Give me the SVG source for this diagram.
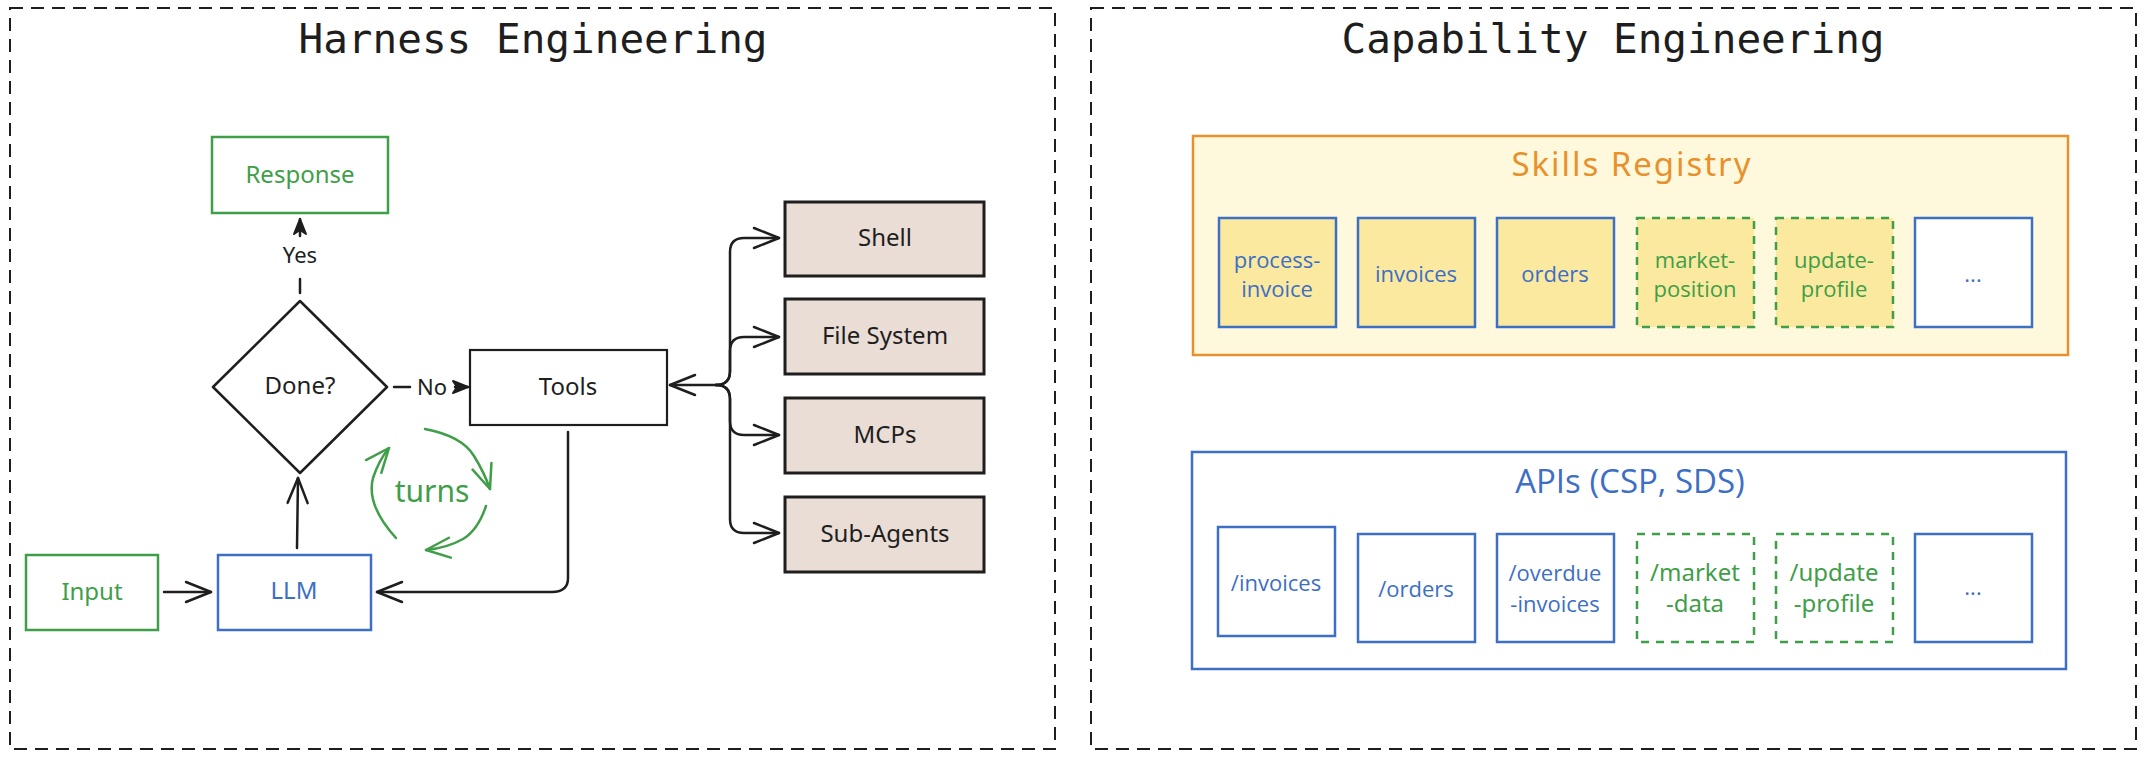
<svg xmlns="http://www.w3.org/2000/svg" width="2149" height="762" viewBox="0 0 2149 762">
<defs>
<style>
.frame{fill:none;stroke:#1e1e1e;stroke-width:2;stroke-dasharray:13 8}
.title{font-family:"DejaVu Sans Mono","Liberation Mono",monospace;font-size:41px;fill:#1e1e1e;text-anchor:middle}
.hand{font-family:"Noto Sans","Liberation Sans",sans-serif;font-size:24px;text-anchor:middle}
.sans{font-family:"Open Sans","Liberation Sans",sans-serif;font-size:22px;text-anchor:middle}
.k{fill:#1e1e1e}.g{fill:#3f9e48}.b{fill:#3d6fc4}.o{fill:#e8912c}
.gbox{fill:#ffffff;stroke:#3f9e48;stroke-width:2.5}
.bbox{fill:#ffffff;stroke:#3d6fc4;stroke-width:2.5}
.kbox{fill:#ffffff;stroke:#1e1e1e;stroke-width:2.2}
.tool{fill:#e9ddd5;stroke:#1e1e1e;stroke-width:3}
.item{fill:#fbe9a0;stroke:#3d6fc4;stroke-width:2.5}
.gitem{fill:#fbe9a0;stroke:#3f9e48;stroke-width:2.5;stroke-dasharray:8 7}
.gapi{fill:#ffffff;stroke:#3f9e48;stroke-width:2.5;stroke-dasharray:8 7}
.conn{fill:none;stroke:#1e1e1e;stroke-width:2.5;stroke-linecap:round;stroke-linejoin:round}
.turn{fill:none;stroke:#3f9e48;stroke-width:2.5;stroke-linecap:round;stroke-linejoin:round}
</style>
<marker id="ah" markerUnits="userSpaceOnUse" markerWidth="40" markerHeight="40" viewBox="-30 -20 40 40" refX="0" refY="0" orient="auto" overflow="visible">
<path d="M-25,-10 L0,0 L-25,10" fill="none" stroke="#1e1e1e" stroke-width="2.5" stroke-linecap="round" stroke-linejoin="round"/>
</marker>
<marker id="ahg" markerUnits="userSpaceOnUse" markerWidth="40" markerHeight="40" viewBox="-30 -20 40 40" refX="0" refY="0" orient="auto" overflow="visible">
<path d="M-24,-10 L0,0 L-24,10" fill="none" stroke="#3f9e48" stroke-width="2.5" stroke-linecap="round" stroke-linejoin="round"/>
</marker>
<marker id="ahs" markerUnits="userSpaceOnUse" markerWidth="30" markerHeight="30" viewBox="-20 -10 30 20" refX="0" refY="0" orient="auto" overflow="visible">
<path d="M0,0 L-15,-6 L-11,0 L-15,6 Z" fill="#1e1e1e" stroke="#1e1e1e" stroke-width="2" stroke-linejoin="round"/>
</marker>
</defs>
<rect width="2149" height="762" fill="#ffffff"/>

<g id="harness-frame">
<rect class="frame" x="10" y="8" width="1045" height="741"/>
<text class="title" x="533" y="53">Harness Engineering</text>
</g>
<g id="capability-frame">
<rect class="frame" x="1091" y="8" width="1045" height="741"/>
<text class="title" x="1613" y="53">Capability Engineering</text>
</g>

<g id="connectors">
<line class="conn" x1="300" y1="293" x2="300" y2="279"/>
<line class="conn" x1="300" y1="236" x2="300" y2="219" marker-end="url(#ahs)"/>
<text class="hand k" x="300" y="263" style="font-size:22px">Yes</text>
<line class="conn" x1="394" y1="387" x2="410" y2="387"/>
<line class="conn" x1="455" y1="387" x2="468" y2="387" marker-end="url(#ahs)"/>
<text class="hand k" x="432" y="395" style="font-size:22px">No</text>
<line class="conn" x1="164" y1="592" x2="211" y2="592" marker-end="url(#ah)"/>
<path class="conn" d="M297,548 L298,478" marker-end="url(#ah)"/>
<path class="conn" d="M568,432 L568,578 Q568,592 552,592 L377,592" marker-end="url(#ah)"/>
<path class="conn" d="M716,385 L670,385" marker-end="url(#ah)"/>
<path class="conn" d="M716,385 Q730,385 730,371 L730,252 Q730,238 744,238 L779,238" marker-end="url(#ah)"/>
<path class="conn" d="M716,385 Q730,385 730,371 L730,351 Q730,337 744,337 L779,337" marker-end="url(#ah)"/>
<path class="conn" d="M716,385 Q730,385 730,399 L730,421 Q730,435 744,435 L779,435" marker-end="url(#ah)"/>
<path class="conn" d="M716,385 Q730,385 730,399 L730,519 Q730,533 744,533 L779,533" marker-end="url(#ah)"/>
<path class="turn" d="M425,429 Q462,436 474,456 Q484,472 490,489" marker-end="url(#ahg)"/>
<path class="turn" d="M486,506 Q478,530 463,539 Q447,548 426,550" marker-end="url(#ahg)"/>
<path class="turn" d="M396,538 Q366,505 373,478 Q379,460 389,448" marker-end="url(#ahg)"/>
<text class="hand g" x="432" y="502" style="font-size:30px">turns</text>
</g>

<g id="response">
<rect class="gbox" x="212" y="137" width="176" height="76"/>
<text class="hand g" x="300" y="183">Response</text>
</g>
<g id="done">
<polygon points="300,301 387,387 300,473 213,387" fill="#ffffff" stroke="#1e1e1e" stroke-width="2.5" stroke-linejoin="round"/>
<text class="hand k" x="300" y="394">Done?</text>
</g>
<g id="tools">
<rect class="kbox" x="470" y="350" width="197" height="75"/>
<text class="hand k" x="568" y="395">Tools</text>
</g>
<g id="input">
<rect class="gbox" x="26" y="555" width="132" height="75"/>
<text class="hand g" x="92" y="600">Input</text>
</g>
<g id="llm">
<rect class="bbox" x="218" y="555" width="153" height="75"/>
<text class="hand b" x="294" y="599">LLM</text>
</g>
<g id="shell">
<rect class="tool" x="785" y="202" width="199" height="74"/>
<text class="hand k" x="885" y="246">Shell</text>
</g>
<g id="file-system">
<rect class="tool" x="785" y="299" width="199" height="75"/>
<text class="hand k" x="885" y="344">File System</text>
</g>
<g id="mcps">
<rect class="tool" x="785" y="398" width="199" height="75"/>
<text class="hand k" x="885" y="443">MCPs</text>
</g>
<g id="sub-agents">
<rect class="tool" x="785" y="497" width="199" height="75"/>
<text class="hand k" x="885" y="542">Sub-Agents</text>
</g>

<g id="skills-registry">
<rect x="1193" y="136" width="875" height="219" fill="#fef9dc" stroke="#e8912c" stroke-width="2.5"/>
<text class="hand o" x="1631" y="176" style="font-size:33px" textLength="239" lengthAdjust="spacing">Skills Registry</text>
</g>
<g id="skill-process-invoice">
<rect class="item" x="1219" y="218" width="117" height="109"/>
<text class="sans b" x="1277" y="268">process-</text>
<text class="sans b" x="1277" y="297">invoice</text>
</g>
<g id="skill-invoices">
<rect class="item" x="1358" y="218" width="117" height="109"/>
<text class="sans b" x="1416" y="282">invoices</text>
</g>
<g id="skill-orders">
<rect class="item" x="1497" y="218" width="117" height="109"/>
<text class="sans b" x="1555" y="282">orders</text>
</g>
<g id="skill-market-position">
<rect class="gitem" x="1637" y="218" width="117" height="109"/>
<text class="sans g" x="1695" y="268">market-</text>
<text class="sans g" x="1695" y="297">position</text>
</g>
<g id="skill-update-profile">
<rect class="gitem" x="1776" y="218" width="117" height="109"/>
<text class="sans g" x="1834" y="268">update-</text>
<text class="sans g" x="1834" y="297">profile</text>
</g>
<g id="skill-more">
<rect class="bbox" x="1915" y="218" width="117" height="109"/>
<text class="sans b" x="1973" y="282">...</text>
</g>

<g id="apis">
<rect x="1192" y="452" width="874" height="217" fill="#ffffff" stroke="#3d6fc4" stroke-width="2.5"/>
<text class="sans b" x="1630" y="493" style="font-size:33px">APIs (CSP, SDS)</text>
</g>
<g id="api-invoices">
<rect class="bbox" x="1218" y="527" width="117" height="109"/>
<text class="sans b" x="1276" y="591">/invoices</text>
</g>
<g id="api-orders">
<rect class="bbox" x="1358" y="534" width="117" height="108"/>
<text class="sans b" x="1416" y="597">/orders</text>
</g>
<g id="api-overdue-invoices">
<rect class="bbox" x="1497" y="534" width="117" height="108"/>
<text class="sans b" x="1555" y="581">/overdue</text>
<text class="sans b" x="1555" y="612">-invoices</text>
</g>
<g id="api-market-data">
<rect class="gapi" x="1637" y="534" width="117" height="108"/>
<text class="hand g" x="1695" y="581">/market</text>
<text class="hand g" x="1695" y="612">-data</text>
</g>
<g id="api-update-profile">
<rect class="gapi" x="1776" y="534" width="117" height="108"/>
<text class="hand g" x="1834" y="581">/update</text>
<text class="hand g" x="1834" y="612">-profile</text>
</g>
<g id="api-more">
<rect class="bbox" x="1915" y="534" width="117" height="108"/>
<text class="sans b" x="1973" y="595">...</text>
</g>
</svg>
